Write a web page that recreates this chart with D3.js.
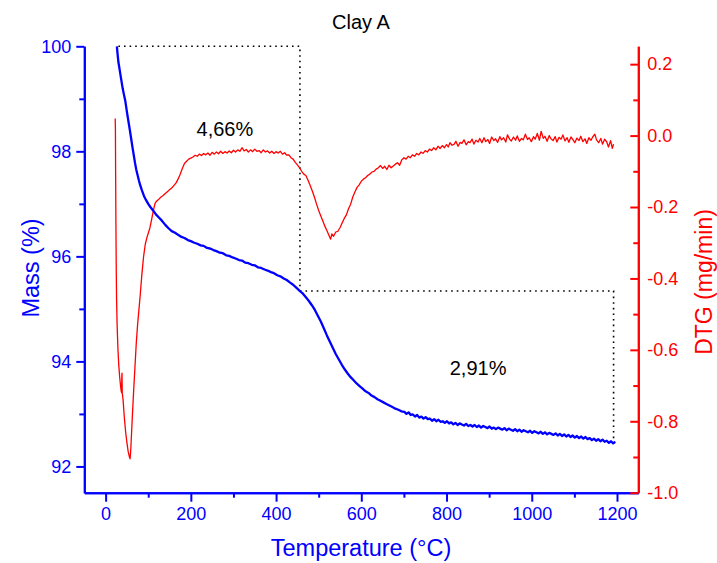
<!DOCTYPE html>
<html><head><meta charset="utf-8">
<script src="https://cdnjs.cloudflare.com/ajax/libs/d3/7.8.5/d3.min.js"></script>
<style>body{margin:0;background:#fff}svg{display:block}text{font-family:"Liberation Sans",Arial,sans-serif}</style>
</head><body><svg id="c" width="717" height="563"></svg>
<script>
const title = "Clay A";
const xLabel = "Temperature (°C)";
const yLeftLabel = "Mass (%)";
const yRightLabel = "DTG (mg/min)";
const xTicks = [0,200,400,600,800,1000,1200];
const xMinor = [100,300,500,700,900,1100];
const massTicks = [92,94,96,98,100];
const massMinor = [93,95,97,99];
const dtgTicks = [-1.0,-0.8,-0.6,-0.4,-0.2,0.0,0.2];
const dtgMinor = [-0.9,-0.7,-0.5,-0.3,-0.1,0.1];

// Mass (%) vs temperature
const massPoints = [[26.5,100.0],[28,99.86],[30,99.7],[33,99.55],[36,99.4],[40,99.2],[43,99.08],[46,98.97],[50,98.75],[54,98.55],[57,98.4],[60,98.24],[63,98.08],[66,97.93],[69,97.78],[72,97.65],[75,97.55],[78,97.45],[81,97.36],[85,97.26],[90,97.15],[95,97.07],[100,97.0],[105,96.94],[111,96.88],[118,96.8],[125,96.74],[132,96.68],[140,96.6],[147,96.54],[155,96.48],[163,96.45],[170,96.41],[178,96.37],[185,96.35],[193,96.31],[200,96.29],[208,96.26],[215,96.24],[223,96.21],[230,96.2],[238,96.16],[245,96.15],[253,96.12],[260,96.1],[268,96.07],[275,96.06],[283,96.02],[290,96.01],[298,95.98],[305,95.96],[313,95.93],[320,95.92],[328,95.88],[335,95.87],[343,95.84],[350,95.83],[358,95.79],[365,95.78],[373,95.75],[380,95.73],[388,95.7],[395,95.68],[403,95.64],[410,95.62],[418,95.58],[425,95.55],[433,95.5],[440,95.46],[448,95.4],[456,95.34],[463,95.29],[470,95.22],[477,95.15],[484,95.07],[491,94.98],[498,94.87],[505,94.76],[512,94.63],[519,94.5],[526,94.38],[533,94.26],[540,94.14],[547,94.04],[554,93.94],[561,93.85],[568,93.77],[575,93.7],[582,93.64],[589,93.58],[596,93.53],[603,93.48],[610,93.43],[617,93.4],[624,93.35],[631,93.32],[638,93.28],[645,93.25],[652,93.22],[659,93.19],[666,93.16],[673,93.13],[680,93.1],[687,93.08],[694,93.05],[701,93.04],[706,93.0],[711,93.03],[716,92.98],[721,92.99],[726,92.95],[731,92.98],[736,92.93],[741,92.95],[746,92.91],[751,92.94],[756,92.9],[761,92.91],[766,92.87],[771,92.9],[776,92.86],[781,92.89],[786,92.85],[791,92.86],[796,92.83],[801,92.86],[806,92.82],[811,92.84],[816,92.8],[821,92.83],[826,92.79],[831,92.82],[836,92.8],[841,92.78],[846,92.81],[851,92.77],[856,92.79],[861,92.76],[866,92.79],[871,92.75],[876,92.78],[881,92.74],[886,92.77],[891,92.75],[896,92.73],[901,92.76],[906,92.72],[911,92.74],[916,92.71],[921,92.74],[926,92.72],[931,92.7],[936,92.73],[941,92.69],[946,92.72],[951,92.7],[956,92.68],[961,92.71],[966,92.67],[971,92.7],[976,92.66],[981,92.69],[986,92.67],[991,92.65],[996,92.68],[1001,92.64],[1006,92.67],[1011,92.65],[1016,92.63],[1021,92.66],[1026,92.62],[1031,92.65],[1036,92.61],[1041,92.64],[1046,92.62],[1051,92.6],[1056,92.63],[1061,92.59],[1066,92.62],[1071,92.58],[1076,92.61],[1081,92.57],[1086,92.6],[1091,92.56],[1096,92.59],[1101,92.55],[1106,92.58],[1111,92.54],[1116,92.57],[1121,92.53],[1126,92.56],[1131,92.52],[1136,92.54],[1141,92.5],[1146,92.53],[1151,92.49],[1156,92.52],[1161,92.48],[1166,92.51],[1171,92.47],[1176,92.49],[1181,92.45],[1186,92.48],[1191,92.44],[1196,92.47]];

// DTG (mg/min) vs temperature
const dtgPoints = [[22.5,0.048],[23,0.02],[23.5,-0.1],[24.2,-0.25],[25,-0.38],[25.8,-0.46],[27,-0.53],[29,-0.6],[31,-0.645],[33,-0.676],[35,-0.7],[36.5,-0.715],[37.5,-0.72],[38,-0.68],[38.5,-0.665],[39,-0.72],[41,-0.74],[44,-0.79],[47,-0.83],[50,-0.86],[53,-0.885],[56,-0.9],[57.5,-0.905],[59,-0.88],[61,-0.83],[63,-0.78],[66,-0.71],[69,-0.645],[72,-0.58],[75,-0.53],[78,-0.49],[81,-0.45],[85,-0.39],[89,-0.34],[93,-0.305],[97,-0.285],[101,-0.27],[104,-0.258],[108,-0.235],[112,-0.21],[116,-0.19],[120,-0.183],[125,-0.178],[130,-0.172],[135,-0.168],[140,-0.162],[145,-0.157],[150,-0.152],[155,-0.147],[160,-0.14],[165,-0.133],[170,-0.122],[175,-0.108],[180,-0.092],[185,-0.078],[190,-0.072],[195,-0.066],[200,-0.063],[205,-0.06],[210,-0.055],[215,-0.058],[220,-0.052],[225,-0.056],[230,-0.05],[235,-0.054],[240,-0.049],[245,-0.055],[250,-0.047],[255,-0.052],[260,-0.046],[265,-0.051],[270,-0.044],[275,-0.05],[280,-0.045],[285,-0.049],[290,-0.043],[295,-0.048],[300,-0.041],[305,-0.046],[310,-0.04],[315,-0.044],[320,-0.034],[325,-0.043],[330,-0.039],[335,-0.046],[340,-0.04],[345,-0.045],[350,-0.038],[355,-0.044],[360,-0.042],[365,-0.048],[370,-0.04],[375,-0.046],[380,-0.043],[385,-0.049],[390,-0.044],[395,-0.05],[400,-0.045],[405,-0.049],[410,-0.044],[415,-0.052],[420,-0.048],[425,-0.055],[430,-0.054],[435,-0.062],[440,-0.066],[445,-0.075],[450,-0.082],[455,-0.09],[460,-0.1],[465,-0.108],[470,-0.112],[475,-0.125],[480,-0.14],[485,-0.155],[490,-0.172],[495,-0.192],[500,-0.21],[505,-0.225],[510,-0.24],[515,-0.255],[520,-0.268],[525,-0.282],[528,-0.29],[531,-0.275],[535,-0.282],[540,-0.27],[545,-0.268],[550,-0.258],[555,-0.245],[560,-0.232],[565,-0.222],[570,-0.205],[575,-0.192],[580,-0.172],[585,-0.158],[590,-0.145],[595,-0.138],[600,-0.128],[605,-0.122],[610,-0.118],[615,-0.112],[620,-0.108],[625,-0.102],[630,-0.1],[635,-0.094],[640,-0.09],[645,-0.084],[650,-0.092],[655,-0.086],[660,-0.095],[665,-0.083],[670,-0.09],[675,-0.085],[680,-0.08],[685,-0.076],[690,-0.083],[695,-0.068],[700,-0.062],[705,-0.066],[710,-0.058],[715,-0.062],[720,-0.054],[725,-0.058],[730,-0.05],[735,-0.054],[740,-0.046],[745,-0.05],[750,-0.042],[755,-0.046],[760,-0.038],[765,-0.042],[770,-0.034],[775,-0.04],[780,-0.03],[785,-0.036],[790,-0.028],[795,-0.034],[800,-0.025],[804,-0.032],[808,-0.02],[813,-0.027],[818,-0.024],[822,-0.016],[827,-0.03],[832,-0.019],[836,-0.022],[841,-0.012],[846,-0.026],[851,-0.017],[855,-0.02],[860,-0.01],[864,-0.024],[869,-0.013],[874,-0.018],[878,-0.008],[883,-0.02],[888,-0.006],[892,-0.017],[897,-0.011],[901,-0.022],[906,-0.004],[911,-0.014],[915,-0.009],[920,-0.019],[925,-0.003],[929,-0.012],[934,-0.006],[939,-0.018],[943,0.002],[948,-0.01],[952,-0.015],[957,-0.004],[962,-0.013],[966,-0.001],[971,-0.016],[976,-0.008],[980,-0.012],[985,0.004],[990,-0.011],[994,-0.006],[999,-0.017],[1004,-0.003],[1008,-0.01],[1013,0.006],[1018,-0.013],[1022,0.012],[1027,-0.008],[1031,-0.002],[1036,-0.016],[1041,0.0],[1045,-0.009],[1050,-0.014],[1055,-0.003],[1059,-0.018],[1064,-0.005],[1069,-0.01],[1073,0.002],[1078,-0.015],[1083,-0.006],[1087,-0.019],[1092,-0.004],[1097,-0.012],[1101,-0.02],[1106,-0.007],[1111,-0.014],[1115,-0.002],[1120,-0.017],[1125,-0.009],[1129,-0.022],[1134,-0.006],[1139,-0.013],[1143,-0.004],[1148,0.004],[1152,-0.012],[1157,-0.02],[1162,-0.008],[1166,-0.024],[1171,-0.01],[1176,-0.018],[1180,-0.032],[1185,-0.014],[1189,-0.036],[1192,-0.024]];

// Mass-loss annotation: step temperatures and mass levels
const stepStartT = 30;
const stepTemps = [456, 1192];
const stepMass = [100, 95.34, 92.43];
const stepLabels = ["4,66%", "2,91%"];
const stepLabelPos = [[280, 98.42], [874, 93.87]];

const svg = d3.select("#c");
const BLUE = "#0000ff", RED = "#ff0000";
const x = d3.scaleLinear().domain([-50, 1250]).range([84.3, 638.3]);
const yL = d3.scaleLinear().domain([91.5, 100]).range([492.7, 46.3]);
const yR = d3.scaleLinear().domain([-1.0, 0.25]).range([492.7, 46.3]);

function styleAxis(g, color, fs) {
  g.selectAll("path.domain").attr("stroke", color).attr("stroke-width", 2);
  g.selectAll(".tick line").attr("stroke", color).attr("stroke-width", 2);
  g.selectAll(".tick text").attr("fill", color).style("font-size", fs + "px").style("font-family", '"Liberation Sans", Arial, sans-serif');
}

// Bottom axis
const gx = svg.append("g").attr("transform", "translate(0,492.7)")
  .call(d3.axisBottom(x).tickValues(xTicks).tickSize(9).tickSizeOuter(0).tickPadding(6).tickFormat(d3.format("d")));
styleAxis(gx, BLUE, 18);
const gxm = svg.append("g").attr("transform", "translate(0,492.7)")
  .call(d3.axisBottom(x).tickValues(xMinor).tickSize(5).tickSizeOuter(0).tickFormat(""));
styleAxis(gxm, BLUE, 18);

// Left axis
const gl = svg.append("g").attr("transform", "translate(84.3,0)")
  .call(d3.axisLeft(yL).tickValues(massTicks).tickSize(8).tickSizeOuter(0).tickPadding(5).tickFormat(d3.format("d")));
styleAxis(gl, BLUE, 18);
const glm = svg.append("g").attr("transform", "translate(84.3,0)")
  .call(d3.axisLeft(yL).tickValues(massMinor).tickSize(5).tickSizeOuter(0).tickFormat(""));
styleAxis(glm, BLUE, 18);

// Right axis (ticks inward)
const fmtR = v => (v < 0 ? "-" : "") + Math.abs(v).toFixed(1);
const gr = svg.append("g").attr("transform", "translate(638.3,0)")
  .call(d3.axisRight(yR).tickValues(dtgTicks).tickSize(-8).tickSizeOuter(0).tickPadding(9).tickFormat(fmtR));
styleAxis(gr, RED, 18);
const grm = svg.append("g").attr("transform", "translate(638.3,0)")
  .call(d3.axisRight(yR).tickValues(dtgMinor).tickSize(-5).tickSizeOuter(0).tickFormat(""));
styleAxis(grm, RED, 18);

// Dotted step annotation
const dots = svg.append("g").attr("fill", "none").attr("stroke", "#000").attr("stroke-width", 1.6).attr("stroke-dasharray", "1.6,4");
const stepPath = [[stepStartT, stepMass[0]], [stepTemps[0], stepMass[0]], [stepTemps[0], stepMass[1]]];
const stepPath2 = [[stepTemps[0], stepMass[1]], [stepTemps[1], stepMass[1]], [stepTemps[1], stepMass[2]]];
const lineL = d3.line().x(d => x(d[0])).y(d => yL(d[1]));
dots.append("path").attr("d", lineL(stepPath));
dots.append("path").attr("d", lineL(stepPath2));

// Curves
svg.append("path").datum(dtgPoints)
  .attr("d", d3.line().x(d => x(d[0])).y(d => yR(d[1])))
  .attr("fill", "none").attr("stroke", RED).attr("stroke-width", 1.3).attr("stroke-linejoin", "round");
svg.append("path").datum(massPoints)
  .attr("d", lineL)
  .attr("fill", "none").attr("stroke", BLUE).attr("stroke-width", 2.3).attr("stroke-linejoin", "round");

// Annotation labels
stepLabels.forEach((t, i) => {
  svg.append("text").attr("x", x(stepLabelPos[i][0])).attr("y", yL(stepLabelPos[i][1]) + 7)
    .attr("text-anchor", "middle").attr("fill", "#000").style("font-size", "20px").text(t);
});

// Titles
svg.append("text").attr("x", 361).attr("y", 29).attr("text-anchor", "middle").attr("fill", "#000").style("font-size", "20px").text(title);
svg.append("text").attr("x", 361).attr("y", 556).attr("text-anchor", "middle").attr("fill", BLUE).style("font-size", "23.5px").text(xLabel);
svg.append("text").attr("transform", "translate(39,268) rotate(-90)").attr("text-anchor", "middle").attr("fill", BLUE).style("font-size", "23.5px").text(yLeftLabel);
svg.append("text").attr("transform", "translate(712,282) rotate(-90)").attr("text-anchor", "middle").attr("fill", RED).style("font-size", "23px").text(yRightLabel);
</script></body></html>
